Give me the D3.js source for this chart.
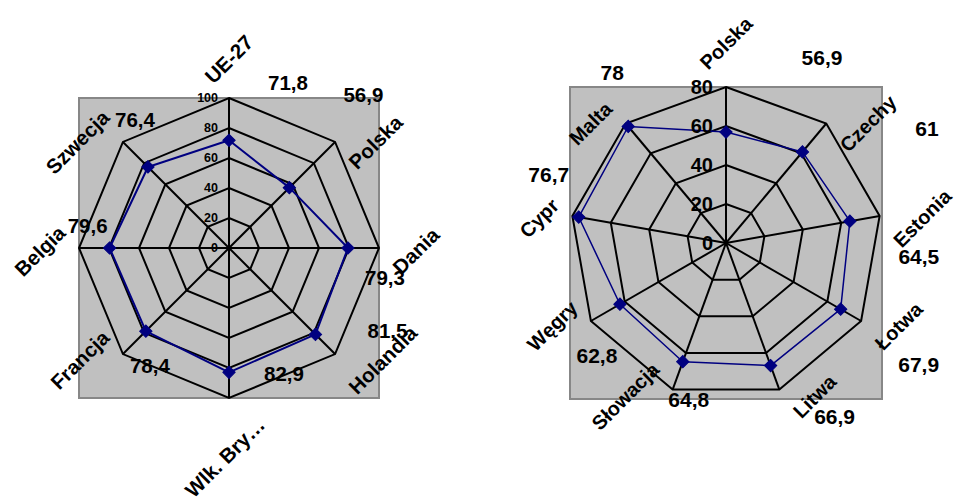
<!DOCTYPE html>
<html>
<head>
<meta charset="utf-8">
<script src="https://cdn.jsdelivr.net/npm/d3@7"></script>
<style>
  body { margin: 0; background: #ffffff; }
  svg { display: block; }
</style>
</head>
<body>
<svg id="chart" width="957" height="504"></svg>
<script>
// Left radar: EU-27 average and older member states
const leftCategories = ["UE-27", "Polska", "Dania", "Holandia", "Wlk. Bry…", "Francja", "Belgia", "Szwecja"];
const leftValues = [71.8, 56.9, 79.3, 81.5, 82.9, 78.4, 79.6, 76.4];
const leftTicks = [0, 20, 40, 60, 80, 100];

// Right radar: Poland and the newer member states
const rightCategories = ["Polska", "Czechy", "Estonia", "Łotwa", "Litwa", "Słowacja", "Węgry", "Cypr", "Malta"];
const rightValues = [56.9, 61, 64.5, 67.9, 66.9, 64.8, 62.8, 76.7, 78];
const rightTicks = [0, 20, 40, 60, 80];

// Where each value label sits relative to its marker (px)
const leftLabelOffsets = [[59, -57], [74, -93], [37, 29.5], [72, -4], [55, 1], [4, 35], [-22, -22], [-13, -47]];
const rightLabelOffsets = [[96, -74], [124.5, -23], [69, 35], [78, 55], [64, 51], [6, 38], [-23, 51], [-30, -42], [-16, -53.5]];

const FONT = "'Liberation Sans', Arial, Helvetica, sans-serif";
const svg = d3.select("#chart");
svg.append("rect").attr("width", 957).attr("height", 504).attr("fill", "#ffffff");

const fmt = v => String(v).replace(".", ",");

function radar(cfg) {
  const n = cfg.categories.length;
  const maxV = cfg.ticks[cfg.ticks.length - 1];
  const angle = d3.scaleLinear().domain([0, n]).range([0, 2 * Math.PI]);
  const r = d3.scaleLinear().domain([0, maxV]).range([0, cfg.radius]);
  const pt = (i, v) => [r(v) * Math.sin(angle(i)), -r(v) * Math.cos(angle(i))];
  const R = cfg.radius;

  const g = svg.append("g").attr("transform", `translate(${cfg.cx},${cfg.cy})`);

  // plot area
  g.append("rect")
    .attr("x", -R).attr("y", -R).attr("width", 2 * R).attr("height", 2 * R)
    .attr("fill", "#c0c0c0").attr("stroke", "#878787").attr("stroke-width", 2);

  const radial = d3.lineRadial()
    .angle((d, i) => angle(i))
    .radius(d => r(d))
    .curve(d3.curveLinearClosed);

  // gridline rings
  g.selectAll("path.ring")
    .data(cfg.ticks.filter(t => t > 0))
    .join("path")
    .attr("class", "ring")
    .attr("d", t => radial(d3.range(n).map(() => t)))
    .attr("fill", "none").attr("stroke", "#000").attr("stroke-width", 2);

  // spokes
  g.selectAll("line.spoke")
    .data(d3.range(n))
    .join("line")
    .attr("class", "spoke")
    .attr("x1", 0).attr("y1", 0)
    .attr("x2", i => pt(i, maxV)[0]).attr("y2", i => pt(i, maxV)[1])
    .attr("stroke", "#000").attr("stroke-width", 2);

  // series
  g.append("path")
    .attr("d", radial(cfg.values))
    .attr("fill", "none").attr("stroke", "#000080")
    .attr("stroke-width", cfg.seriesWidth).attr("stroke-linejoin", "round");

  const diamond = d3.symbol().type(d3.symbolSquare).size(cfg.markerSize);
  g.selectAll("path.marker")
    .data(cfg.values)
    .join("path")
    .attr("class", "marker")
    .attr("d", diamond)
    .attr("transform", (v, i) => `translate(${pt(i, v)[0]},${pt(i, v)[1]}) rotate(45)`)
    .attr("fill", "#000080").attr("stroke", "#000080").attr("stroke-width", 1);

  // value-axis tick labels along the first spoke
  g.selectAll("text.tick")
    .data(cfg.ticks)
    .join("text")
    .attr("class", "tick")
    .attr("x", -cfg.tickGap).attr("y", t => -r(t)).attr("dy", "0.35em")
    .attr("text-anchor", "end")
    .attr("font-family", FONT).attr("font-weight", "bold").attr("font-size", cfg.tickFont)
    .attr("fill", "#000")
    .text(t => t);

  // value labels
  g.selectAll("text.value")
    .data(cfg.values)
    .join("text")
    .attr("class", "value")
    .attr("x", (v, i) => pt(i, v)[0] + cfg.labelOffsets[i][0])
    .attr("y", (v, i) => pt(i, v)[1] + cfg.labelOffsets[i][1])
    .attr("dy", "0.35em").attr("text-anchor", "middle")
    .attr("font-family", FONT).attr("font-weight", "bold").attr("font-size", cfg.valueFont)
    .attr("fill", "#000")
    .text(v => fmt(v));

  // category labels, rotated and placed beside the end of each spoke
  const cats = g.selectAll("text.cat")
    .data(cfg.categories)
    .join("text")
    .attr("class", "cat")
    .attr("text-anchor", "middle").attr("dy", "0.35em")
    .attr("font-family", FONT).attr("font-weight", "bold").attr("font-size", cfg.catFont)
    .attr("fill", "#000")
    .text(d => d);

  cats.each(function (d, i) {
    const L = this.getComputedTextLength();
    const half = (L + 0.72 * cfg.catFont) * Math.SQRT1_2 / 2;
    const a = angle(i);
    const [ex, ey] = pt(i, maxV);
    const s = Math.sin(a), c = Math.cos(a);
    let px, py;
    if (Math.abs(s) < 1e-6 && c > 0) {
      px = ex; py = ey - cfg.topGap - half;
    } else if (Math.abs(s) < 1e-6) {
      px = ex - 4; py = ey + cfg.bottomGap + half;
    } else {
      px = ex + Math.sign(s) * (cfg.sideGap + half);
      py = ey + 3 - 4 * c;
    }
    d3.select(this).attr("transform", `translate(${px},${py}) rotate(-45)`);
  });
}

radar({
  categories: leftCategories, values: leftValues, ticks: leftTicks, labelOffsets: leftLabelOffsets,
  cx: 229, cy: 248, radius: 150,
  seriesWidth: 2, markerSize: 76,
  tickFont: 12.5, tickGap: 11, valueFont: 20.5, catFont: 20.5,
  sideGap: 12, topGap: 13, bottomGap: 18
});

radar({
  categories: rightCategories, values: rightValues, ticks: rightTicks, labelOffsets: rightLabelOffsets,
  cx: 726, cy: 243, radius: 156,
  seriesWidth: 1.5, markerSize: 76,
  tickFont: 20, tickGap: 13, valueFont: 21, catFont: 20,
  sideGap: 12, topGap: 16, bottomGap: 35
});
</script>
</body>
</html>
